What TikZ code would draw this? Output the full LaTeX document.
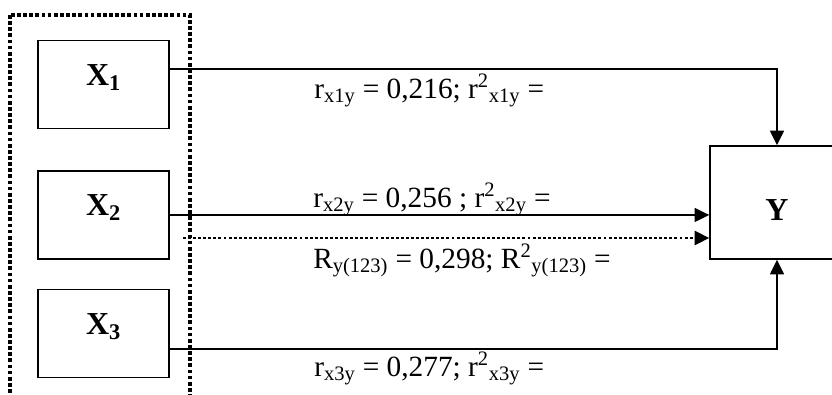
\documentclass[tikz,border=0pt]{standalone}
\usepackage{fontspec}
\setmainfont{Liberation Serif}
\usetikzlibrary{arrows.meta,positioning}
\tikzset{
  varbox/.style={
    rectangle, draw=black, line width=1.1pt, fill=white,
    minimum width=98.25pt, minimum height=66pt, inner sep=0pt,
    text height=16pt, text depth=14.5pt,
    font=\fontsize{24}{26}\selectfont\bfseries
  },
  depbox/.style={varbox, minimum width=100.5pt, minimum height=84.75pt,
    text height=27pt, text depth=0pt},
  groupframe/.style={draw=black, line width=2.8pt, dash pattern=on 2.8pt off 1.8pt},
  link/.style={-{Triangle[length=11pt,width=10.5pt]}, line width=1.1pt, draw=black},
  jointlink/.style={link, line width=2.2pt, dash pattern=on 2.2pt off 1.6pt},
  coeflabel/.style={anchor=base west, inner sep=0pt, font=\fontsize{22}{24}\selectfont},
}
\begin{document}
\begin{tikzpicture}[x=0.75pt, y=-0.75pt]
  \clip[use as bounding box] (0,0) rectangle (832,394);
  % group of independent variables
  \draw[groupframe] (10,15) rectangle (190,420);
  \node (x1) [varbox] at (103.5,84.5) {X\textsubscript{1}};
  \node (x2) [varbox, below=30.75pt of x1] {X\textsubscript{2}};
  \node (x3) [varbox, below=21.75pt of x2] {X\textsubscript{3}};
  \node (y)  [depbox] at (777,202.5) {Y};
  \coordinate (d0) at (183,238);
  % connectors
  \draw[link] ([yshift=11.6pt]x1.east) -| (y.north);
  \draw[link] (x2.east) -- (x2.east -| y.west);
  \draw[jointlink] (d0) -- (d0 -| y.west);
  \draw[link] ([yshift=-11.6pt]x3.east) -| (y.south);
  % coefficients
  \node (c1) [coeflabel] at (314,98)  {r\textsubscript{x1y} = 0,216; r\textsuperscript{2}\textsubscript{x1y} =};
  \node (c2) [coeflabel] at (313,207) {r\textsubscript{x2y} = 0,256 ; r\textsuperscript{2}\textsubscript{x2y} =};
  \node (c3) [coeflabel] at (313,268) {R\textsubscript{y(123)} = 0,298; R\textsuperscript{2}\textsubscript{y(123)} =};
  \node (c4) [coeflabel] at (314,376) {r\textsubscript{x3y} = 0,277; r\textsuperscript{2}\textsubscript{x3y} =};
\end{tikzpicture}
\end{document}
